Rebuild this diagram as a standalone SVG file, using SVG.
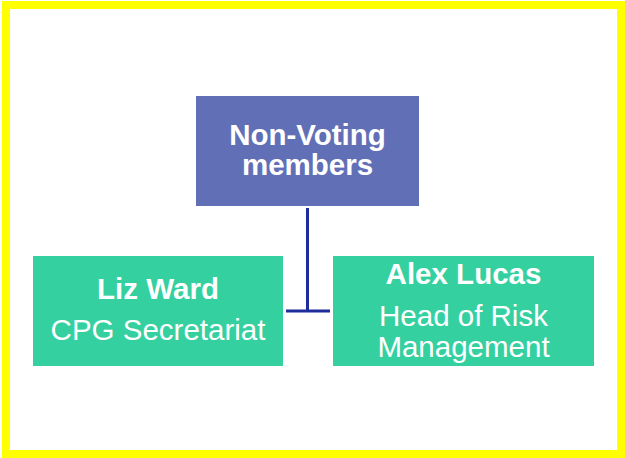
<svg xmlns="http://www.w3.org/2000/svg" width="625" height="458" viewBox="0 0 625 458">
<style>
.t{font-family:"Liberation Sans",Arial,sans-serif;fill:#fff;text-anchor:middle;font-size:29.5px}
.b{font-weight:bold}
.conn{stroke:#1f2d9a;stroke-width:3;fill:none}
</style>
<rect x="0" y="0" width="625" height="458" fill="#fff"/>
<rect x="6" y="5" width="615" height="449" fill="none" stroke="#ffff00" stroke-width="8"/>
<g id="connectors">
<line class="conn" x1="307.5" y1="208" x2="307.5" y2="311"/>
<line class="conn" x1="286" y1="311" x2="330" y2="311"/>
</g>
<g id="node-nonvoting">
<rect x="196" y="96" width="223" height="110" fill="#6170b6"/>
<text class="t b" x="307.5" y="145">Non-Voting</text>
<text class="t b" x="307.5" y="175">members</text>
</g>
<g id="node-lizward">
<rect x="33" y="256" width="250" height="110" fill="#35d0a0"/>
<text class="t b" x="158" y="299">Liz Ward</text>
<text class="t" x="158" y="340">CPG Secretariat</text>
</g>
<g id="node-alexlucas">
<rect x="333" y="256" width="261" height="110" fill="#35d0a0"/>
<text class="t b" x="463.5" y="284">Alex Lucas</text>
<text class="t" x="463.5" y="326">Head of Risk</text>
<text class="t" x="463.5" y="357">Management</text>
</g>
</svg>
